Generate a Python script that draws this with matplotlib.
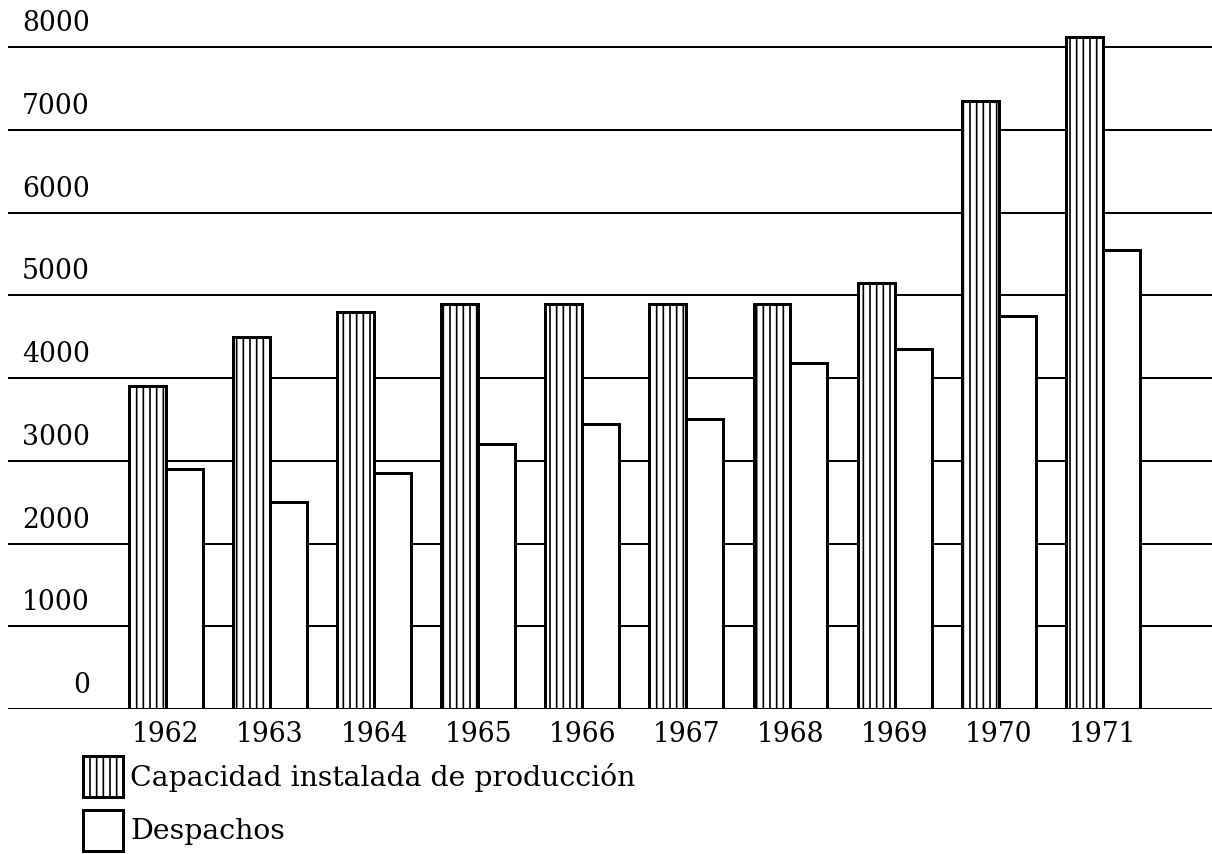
import numpy as np
import matplotlib
matplotlib.use("Agg")
import matplotlib.pyplot as plt

# data
years = ["1962", "1963", "1964", "1965", "1966", "1967", "1968", "1969", "1970", "1971"]
capacidad = [3900, 4500, 4800, 4900, 4900, 4900, 4900, 5150, 7350, 8120]
despachos = [2900, 2500, 2850, 3200, 3450, 3500, 4180, 4350, 4750, 5550]
yticks = [0, 1000, 2000, 3000, 4000, 5000, 6000, 7000, 8000]

DPI = 120
W, H = 1212, 854

plt.rcParams.update({
    "font.family": "DejaVu Serif",
    "font.size": 16,
    "hatch.linewidth": 1.0,
    "hatch.color": "black",
})

fig = plt.figure(figsize=(W / DPI, H / DPI), dpi=DPI, facecolor="white")
# axes: x from 8 px to right edge, y from top edge to baseline at 709 px
ax = fig.add_axes([8 / W, (H - 709) / H, 1 - 8 / W, 709 / H])

x = np.arange(len(years))
bw = 0.355

# horizontal rules
for v in yticks:
    ax.axhline(v, color="black", lw=1.2 if v else 1.8, zorder=1)

ax.bar(x - bw / 2, capacidad, width=bw, facecolor="white", edgecolor="black",
       linewidth=1.8, hatch="|||", zorder=3,
       label="Capacidad instalada de producción")
ax.bar(x + bw / 2, despachos, width=bw, facecolor="white", edgecolor="black",
       linewidth=1.8, zorder=3, label="Despachos")

ax.set_xlim(-1.518, 10.05)
ax.set_ylim(0, 8568)

# y labels sit above their rules at the left
for v in yticks:
    ax.text(0.0681, v + 120, f"{v}", transform=ax.get_yaxis_transform(),
            ha="right", va="bottom", fontsize=16)

ax.set_yticks([])
ax.set_xticks(x, years)
ax.tick_params(axis="x", length=0, pad=7, labelsize=16)
for s in ax.spines.values():
    s.set_visible(False)

leg = ax.legend(loc="upper left", bbox_to_anchor=(83 / W, 1 - 756 / H),
                bbox_transform=fig.transFigure, frameon=False, borderpad=0,
                borderaxespad=0, handlelength=1.41, handleheight=1.85,
                handletextpad=0.25, labelspacing=0.45, fontsize=17)

fig.savefig("out.png", dpi=DPI, facecolor="white")
